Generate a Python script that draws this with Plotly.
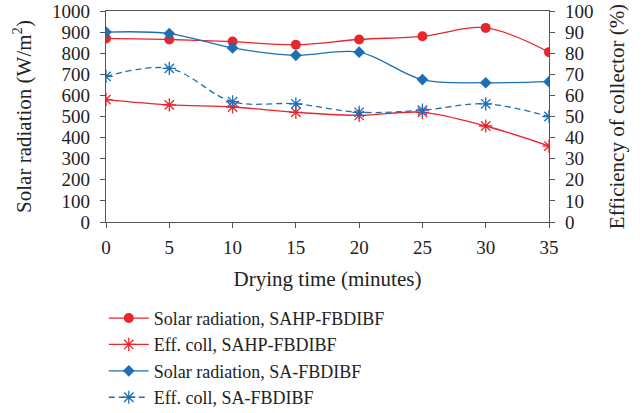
import plotly.graph_objects as go

# Drying time (minutes)
time_min = [0, 5, 10, 15, 20, 25, 30, 35]

# Solar radiation (W/m^2)
solar_sahp = [870, 865, 855, 840, 865, 880, 920, 805]
solar_sa = [900, 893, 825, 790, 805, 675, 660, 665]

# Collector efficiency (%)
eff_sahp = [58, 55.5, 54.5, 52, 50.5, 52, 45.5, 36]
eff_sa = [69, 72.8, 57, 56, 52, 53, 56, 50]

left_ticks = list(range(0, 1001, 100))
right_ticks = list(range(0, 101, 10))

RED = "#E8262B"
BLUE = "#1C6EB5"
FONT = "Liberation Serif"
TXT = "#222222"

fig = go.Figure()
fig.add_trace(go.Scatter(
    x=time_min, y=solar_sahp, name="Solar radiation, SAHP-FBDIBF",
    mode="lines+markers", line=dict(color=RED, width=1.3, shape="spline"),
    marker=dict(symbol="circle", size=10, color=RED)))
fig.add_trace(go.Scatter(
    x=time_min, y=eff_sahp, name="Eff. coll, SAHP-FBDIBF", yaxis="y2",
    mode="lines+markers", line=dict(color=RED, width=1.3, shape="spline"),
    marker=dict(symbol="asterisk-open", size=11, color=RED, line=dict(width=1.3, color=RED))))
fig.add_trace(go.Scatter(
    x=time_min, y=solar_sa, name="Solar radiation, SA-FBDIBF",
    mode="lines+markers", line=dict(color=BLUE, width=1.3, shape="spline"),
    marker=dict(symbol="diamond", size=9, color=BLUE)))
fig.add_trace(go.Scatter(
    x=time_min, y=eff_sa, name="Eff. coll, SA-FBDIBF", yaxis="y2",
    mode="lines+markers", line=dict(color=BLUE, width=1.3, shape="spline", dash="6px,4px"),
    marker=dict(symbol="asterisk-open", size=11, color=BLUE, line=dict(width=1.3, color=BLUE))))

axis_common = dict(
    showline=True, linecolor="#555555", linewidth=1.2,
    ticks="outside", ticklen=5, tickcolor="#555555",
    showgrid=False, zeroline=False,
    tickfont=dict(family=FONT, size=19, color=TXT),
)

fig.update_layout(
    width=643, height=413,
    margin=dict(l=106, r=94, t=11, b=191, autoexpand=False),
    paper_bgcolor="white", plot_bgcolor="white",
    font=dict(family=FONT, size=20, color=TXT),
    xaxis=dict(
        range=[0, 35], tickvals=time_min, mirror=True,
        title=dict(text="Drying time (minutes)", font=dict(family=FONT, size=21, color=TXT), standoff=14),
        ticklabelstandoff=3,
        **axis_common),
    yaxis=dict(
        range=[0, 1000], tickvals=left_ticks, ticklabelstandoff=6,
        title=dict(text="Solar radiation (W/m<sup>2</sup>)", font=dict(family=FONT, size=21, color=TXT), standoff=14),
        **axis_common),
    yaxis2=dict(
        range=[0, 100], tickvals=right_ticks, overlaying="y", side="right", ticklabelstandoff=6,
        title=dict(text="Efficiency of collector (%)", font=dict(family=FONT, size=21, color=TXT), standoff=16),
        **axis_common),
    legend=dict(
        x=-0.005, y=0.274, xanchor="left", yanchor="top", yref="container",
        font=dict(family=FONT, size=18, color=TXT),
        bgcolor="rgba(0,0,0,0)", tracegroupgap=0, itemwidth=40,
    ),
    showlegend=True,
)

fig.write_html("out.html")
